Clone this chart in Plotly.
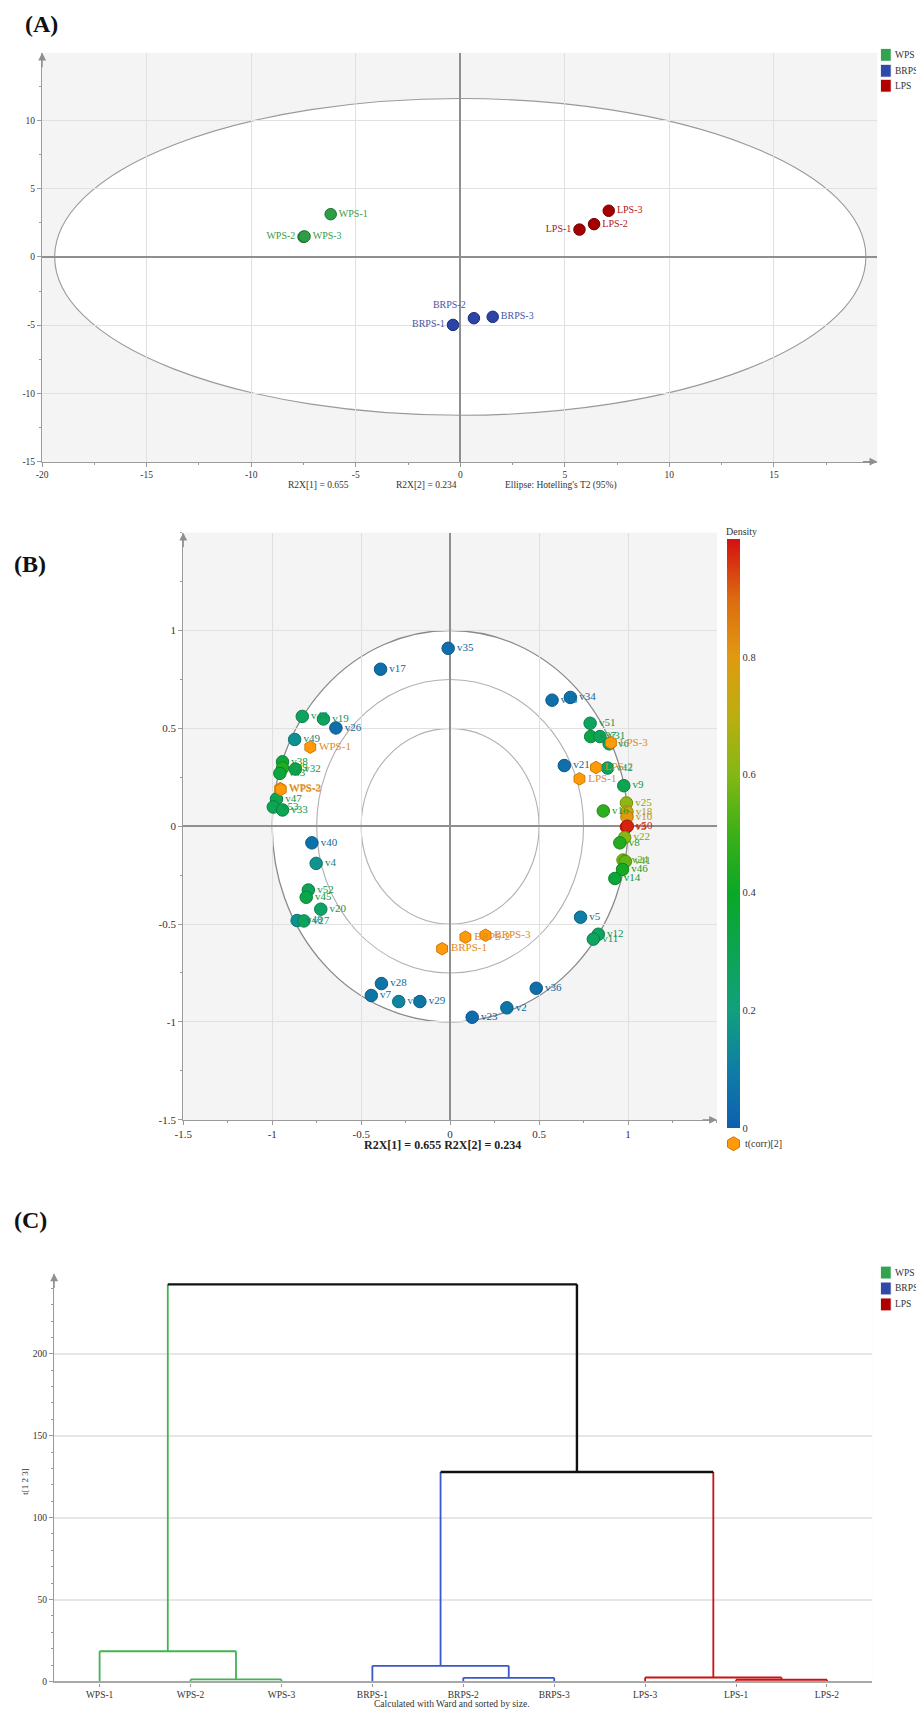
import math
import plotly.graph_objects as go

W, H = 916, 1720
SERIF = "Liberation Serif"


def px(x):
    return x / W


def py(y):
    return 1 - y / H


# ---------------- Panel A : score scatter ----------------
group_names = ["WPS", "BRPS", "LPS"]
a_samples = ["WPS-1", "WPS-2", "WPS-3", "BRPS-1", "BRPS-2", "BRPS-3", "LPS-1", "LPS-2", "LPS-3"]
a_groups = ["WPS", "WPS", "WPS", "BRPS", "BRPS", "BRPS", "LPS", "LPS", "LPS"]
a_t1 = [-6.2, -7.5, -7.45, -0.35, 0.65, 1.55, 5.7, 6.4, 7.1]
a_t2 = [3.13, 1.47, 1.50, -4.98, -4.49, -4.39, 2.00, 2.40, 3.38]
a_textpos = ["middle right", "middle left", "middle right", "middle left", "top left",
             "middle right", "middle left", "middle right", "middle right"]
a_ellipse_t1 = 19.4
a_ellipse_t2 = 11.6
a_xticks = [-20, -15, -10, -5, 0, 5, 10, 15]
a_yticks = [-15, -10, -5, 0, 5, 10]
a_notes = ["R2X[1] = 0.655", "R2X[2] = 0.234", "Ellipse: Hotelling's T2 (95%)"]

# ---------------- Panel B : loading / correlation plot ----------------
b_vars = ["v35", "v17", "v13", "v34", "v44", "v19", "v26", "v49", "v38", "v39", "v43", "v32",
          "v47", "v53", "v33", "v40", "v4", "v52", "v45", "v20", "v48", "v27", "v28", "v7",
          "v30", "v29", "v23", "v2", "v36", "v5", "v12", "v11", "v51", "v37", "v31", "v6",
          "v21", "v42", "v9", "v25", "v16", "v18", "v10", "v3", "v50", "v22", "v8", "v24",
          "v41", "v46", "v14"]
b_p1 = [-0.011, -0.391, 0.573, 0.676, -0.831, -0.712, -0.642, -0.874, -0.942, -0.942, -0.957, -0.870,
        -0.976, -0.994, -0.942, -0.777, -0.753, -0.797, -0.809, -0.727, -0.860, -0.822, -0.386, -0.443,
        -0.289, -0.170, 0.124, 0.319, 0.484, 0.733, 0.833, 0.805, 0.787, 0.790, 0.842, 0.894,
        0.642, 0.885, 0.976, 0.991, 0.861, 0.994, 0.994, 0.991, 0.996, 0.981, 0.954, 0.972,
        0.985, 0.969, 0.926]
b_p2 = [0.909, 0.802, 0.644, 0.658, 0.561, 0.548, 0.502, 0.443, 0.329, 0.297, 0.270, 0.292,
        0.139, 0.098, 0.083, -0.085, -0.190, -0.326, -0.363, -0.424, -0.482, -0.484, -0.804, -0.865,
        -0.896, -0.896, -0.976, -0.928, -0.828, -0.465, -0.552, -0.577, 0.526, 0.458, 0.458, 0.421,
        0.310, 0.297, 0.207, 0.119, 0.078, 0.073, 0.047, -0.004, 0.000, -0.058, -0.085, -0.173,
        -0.180, -0.221, -0.267]
b_density = [0.05, 0.05, 0.05, 0.06, 0.27, 0.27, 0.05, 0.15, 0.35, 0.45, 0.35, 0.28,
             0.30, 0.30, 0.30, 0.06, 0.16, 0.28, 0.32, 0.25, 0.15, 0.28, 0.07, 0.07,
             0.12, 0.07, 0.04, 0.07, 0.05, 0.10, 0.27, 0.27, 0.27, 0.33, 0.28, 0.27,
             0.05, 0.27, 0.30, 0.62, 0.47, 0.72, 0.80, 0.98, 0.98, 0.60, 0.45, 0.57,
             0.55, 0.42, 0.36]
b_obs = ["WPS-1", "WPS-2", "WPS-3", "BRPS-1", "BRPS-2", "BRPS-3", "LPS-1", "LPS-2", "LPS-3"]
b_obs_p1 = [-0.786, -0.955, -0.952, -0.045, 0.086, 0.199, 0.727, 0.820, 0.904]
b_obs_p2 = [0.404, 0.192, 0.188, -0.626, -0.567, -0.557, 0.242, 0.300, 0.426]
b_circle_radii = [1.0, 0.75, 0.5]
b_ticks = [-1.5, -1, -0.5, 0, 0.5, 1]
b_cbar_ticks = [0, 0.2, 0.4, 0.6, 0.8]
b_colorscale = [[0.0, "#0f5fb0"], [0.1, "#0e7ea6"], [0.2, "#11a07c"], [0.3, "#0da452"],
                [0.4, "#0aa826"], [0.5, "#3cb018"], [0.6, "#84b814"], [0.7, "#bcae10"],
                [0.8, "#e09a10"], [0.9, "#dc6a10"], [1.0, "#d41010"]]
b_note = "R2X[1] = 0.655 R2X[2] = 0.234"

# ---------------- Panel C : dendrogram ----------------
c_leaves = ["WPS-1", "WPS-2", "WPS-3", "BRPS-1", "BRPS-2", "BRPS-3", "LPS-3", "LPS-1", "LPS-2"]
c_leaf_group = ["WPS", "WPS", "WPS", "BRPS", "BRPS", "BRPS", "LPS", "LPS", "LPS"]
# merges: node ids 0..8 are leaves, 9.. are merges in order
c_link_a = [1, 0, 4, 3, 7, 6, 12, 10]
c_link_b = [2, 9, 5, 11, 8, 13, 14, 15]
c_link_h = [1.2, 18.4, 2.2, 9.5, 1.0, 2.4, 127.8, 242.4]
c_link_group = ["WPS", "WPS", "BRPS", "BRPS", "LPS", "LPS", "ALL", "ALL"]
c_yticks = [0, 50, 100, 150, 200]

# ---------------- styles ----------------
grp_marker = {"WPS": "#2e9e46", "BRPS": "#2b44a6", "LPS": "#a50000"}
grp_edge = {"WPS": "#1d6e2e", "BRPS": "#1b2c78", "LPS": "#700000"}
grp_text = {"WPS": "#3a9a48", "BRPS": "#4a55a5", "LPS": "#b01515"}
grp_legend = {"WPS": "#33a350", "BRPS": "#3048a8", "LPS": "#b00000"}
grp_dendro = {"WPS": "#42b352", "BRPS": "#3a58c8", "LPS": "#cc1111", "ALL": "#111111"}


def hex2rgb(h):
    h = h.lstrip("#")
    return [int(h[i:i + 2], 16) for i in (0, 2, 4)]


def interp_color(v):
    for (p0, c0), (p1, c1) in zip(b_colorscale[:-1], b_colorscale[1:]):
        if p0 <= v <= p1:
            t = (v - p0) / (p1 - p0) if p1 > p0 else 0
            a, b = hex2rgb(c0), hex2rgb(c1)
            return [a[i] + (b[i] - a[i]) * t for i in range(3)]
    return hex2rgb(b_colorscale[-1][1])


def rgb(c, f=1.0):
    return "rgb(%d,%d,%d)" % tuple(int(max(0, min(255, x * f))) for x in c)


fig = go.Figure()

# ---- Panel A traces ----
for g in group_names:
    idx = [i for i, gg in enumerate(a_groups) if gg == g]
    fig.add_trace(go.Scatter(
        x=[a_t1[i] for i in idx], y=[a_t2[i] for i in idx],
        text=[a_samples[i] for i in idx], textposition=[a_textpos[i] for i in idx],
        mode="markers+text",
        marker=dict(size=11.5, color=grp_marker[g], line=dict(color=grp_edge[g], width=1)),
        textfont=dict(family=SERIF, size=10, color=grp_text[g]),
        xaxis="x", yaxis="y", showlegend=False, hoverinfo="skip"))

# ---- Panel B traces ----
b_cols = [interp_color(d) for d in b_density]
fig.add_trace(go.Scatter(
    x=b_p1, y=b_p2, text=b_vars, mode="markers+text", textposition="middle right",
    marker=dict(size=12.5, color=b_density, colorscale=b_colorscale, cmin=0, cmax=1,
                line=dict(color=[rgb(c, 0.78) for c in b_cols], width=1),
                showscale=True,
                colorbar=dict(x=px(725), xanchor="left", xpad=0, y=py(1132), yanchor="bottom", ypad=0,
                              lenmode="pixels", len=589, thicknessmode="pixels", thickness=13,
                              outlinewidth=0, ticks="", tickvals=b_cbar_ticks,
                              ticktext=[str(t) for t in b_cbar_ticks],
                              tickfont=dict(family=SERIF, size=10.5, color="#333"))),
    textfont=dict(family=SERIF, size=11, color=[rgb(c, 0.92) for c in b_cols]),
    xaxis="x2", yaxis="y2", showlegend=False, hoverinfo="skip"))
fig.add_trace(go.Scatter(
    x=b_obs_p1, y=b_obs_p2, text=b_obs, mode="markers+text", textposition="middle right",
    marker=dict(size=12.5, symbol="hexagon", color="#ff9a0a", line=dict(color="#d27800", width=1)),
    textfont=dict(family=SERIF, size=11, color="#e0891c"),
    xaxis="x2", yaxis="y2", showlegend=False, hoverinfo="skip"))

# ---- Panel C dendrogram ----
pos = {i: i + 1 for i in range(len(c_leaves))}
hgt = {i: 0.0 for i in range(len(c_leaves))}
col = {i: c_leaf_group[i] for i in range(len(c_leaves))}
segs = {k: ([], []) for k in grp_dendro}
for k, (a, b, h, g) in enumerate(zip(c_link_a, c_link_b, c_link_h, c_link_group)):
    nid = len(c_leaves) + k
    xa, xb = pos[a], pos[b]
    for child, xc in ((a, xa), (b, xb)):
        sx, sy = segs[col[child]]
        sx += [xc, xc, None]
        sy += [hgt[child], h, None]
    sx, sy = segs[g]
    sx += [xa, xb, None]
    sy += [h, h, None]
    pos[nid] = (xa + xb) / 2
    hgt[nid] = h
    col[nid] = g
for g, (sx, sy) in segs.items():
    fig.add_trace(go.Scatter(x=sx, y=sy, mode="lines",
                             line=dict(color=grp_dendro[g], width=2.4 if g == "ALL" else 1.8),
                             xaxis="x3", yaxis="y3", showlegend=False, hoverinfo="skip"))

# ---------------- axes ----------------
tickfont = dict(family=SERIF, size=9.5, color="#333")
base = dict(showline=True, linecolor="#9a9a9a", linewidth=1.3, ticks="outside", tickcolor="#9a9a9a",
            ticklen=4, tickwidth=1, tickfont=tickfont, gridcolor="#e0e0e0", gridwidth=1.2,
            zeroline=True, zerolinecolor="#8f8f8f", zerolinewidth=1.6, mirror=False)


def fmt(v):
    return "%g" % v


minor_a = dict(tickmode="linear", tick0=0, dtick=2.5, ticklen=2.5, ticks="outside",
               tickcolor="#9a9a9a", showgrid=False)
minor_b = dict(minor_a, dtick=0.25)
minor_c = dict(minor_a, dtick=10)

fig.update_layout(
    width=W, height=H, margin=dict(l=0, r=0, t=0, b=0), autosize=False,
    paper_bgcolor="white", plot_bgcolor="#f4f4f4",
    xaxis=dict(base, domain=[px(33.5), px(877)], range=[-20, 19.95], anchor="y",
               tickmode="array", tickvals=a_xticks, ticktext=[fmt(v) for v in a_xticks], minor=minor_a),
    yaxis=dict(base, domain=[py(463.3), py(53)], range=[-15, 14.95], anchor="x",
               tickmode="array", tickvals=a_yticks, ticktext=[fmt(v) for v in a_yticks], minor=minor_a),
    xaxis2=dict(base, domain=[px(176), px(715)], range=[-1.5, 1.5], anchor="y2",
                tickmode="array", tickvals=b_ticks, ticktext=[fmt(v) for v in b_ticks],
                tickfont=dict(family=SERIF, size=11, color="#333"), minor=minor_b),
    yaxis2=dict(base, domain=[py(1123.7), py(534.5)], range=[-1.5, 1.5], anchor="x2",
                tickmode="array", tickvals=b_ticks, ticktext=[fmt(v) for v in b_ticks],
                tickfont=dict(family=SERIF, size=11, color="#333"), minor=minor_b),
    xaxis3=dict(base, domain=[px(45.6), px(872)], range=[0.5, 9.5], anchor="y3",
                tickmode="array", tickvals=list(range(1, len(c_leaves) + 1)), ticktext=c_leaves,
                showgrid=False, zeroline=False, linewidth=2.2, linecolor="#a8a8a8", ticklen=3),
    yaxis3=dict(base, domain=[py(1687.3), py(1278)], range=[0, 249], anchor="x3",
                tickmode="array", tickvals=c_yticks, ticktext=[fmt(v) for v in c_yticks],
                zeroline=False, gridcolor="#e6e6e6", gridwidth=1.5, minor=minor_c),
)

shapes = [
    # white plot background for panel C
    dict(type="rect", xref="x3 domain", yref="y3 domain", x0=0, x1=1, y0=0, y1=1,
         fillcolor="white", line=dict(width=0), layer="below"),
    # Hotelling ellipse
    dict(type="circle", xref="x", yref="y", x0=-a_ellipse_t1, x1=a_ellipse_t1,
         y0=-a_ellipse_t2, y1=a_ellipse_t2, fillcolor="white",
         line=dict(color="#9a9a9a", width=1.1), layer="below"),
]
for i, r in enumerate(b_circle_radii):
    shapes.append(dict(type="circle", xref="x2", yref="y2", x0=-r, x1=r, y0=-r, y1=r,
                       fillcolor="white" if i == 0 else "rgba(0,0,0,0)",
                       line=dict(color="#8a8a8a" if i == 0 else "#b0b0b0", width=1.3 if i == 0 else 1.1),
                       layer="below"))

legend_rows = ([55, 71, 86], [1277, 1293, 1309])
for ys in legend_rows:
    for g, yc in zip(group_names, ys):
        shapes.append(dict(type="rect", xref="paper", yref="paper", x0=px(880), x1=px(891),
                           y0=py(yc + 6.5), y1=py(yc - 6.5), fillcolor=grp_legend[g],
                           line=dict(color="white", width=1)))

# hexagon legend symbol for panel B
cx, cy, rr = 731.7, 1147.7, 7
pts = [(cx + rr * math.cos(math.radians(90 + 60 * k)), cy - rr * math.sin(math.radians(90 + 60 * k)))
       for k in range(6)]
path = "M " + " L ".join("%.5f,%.5f" % (px(x), py(y)) for x, y in pts) + " Z"
shapes.append(dict(type="path", xref="paper", yref="paper", path=path, fillcolor="#ff9a0a",
                   line=dict(color="#d27800", width=1)))
fig.update_layout(shapes=shapes)

# ---------------- annotations ----------------
ann = []


def text(x, y, s, size=9.5, xanchor="center", color="#333", angle=0):
    ann.append(dict(x=px(x), y=py(y), xref="paper", yref="paper", text=s, showarrow=False,
                    xanchor=xanchor, yanchor="middle", textangle=angle,
                    font=dict(family=SERIF, size=size, color=color)))


text(14, 24, "<b>(A)</b>", 24, "left", "#111")
text(3, 566, "<b>(B)</b>", 24, "left", "#111")
text(3, 1224, "<b>(C)</b>", 24, "left", "#111")

for s, xc in zip(a_notes, [313, 422, 557]):
    text(xc, 487, s, 9.5)
text(438, 1149, "<b>%s</b>" % b_note, 12, "center", "#222")
text(739.5, 533, "Density", 10, "center", "#333")
text(741, 1148, "t(corr)[2]", 10, "left", "#333")
text(447, 1710, "Calculated with Ward and sorted by size.", 9.5)
text(16, 1486, "t[1 2 3]", 9, "center", "#333", -90)

for ys in legend_rows:
    for g, yc in zip(group_names, ys):
        text(893, yc, g, 9.5, "left", "#333")

# axis arrows
arrow = dict(showarrow=True, arrowhead=2, arrowsize=1.3, arrowwidth=1.2, arrowcolor="#8f8f8f",
             text="", standoff=0)
ann.append(dict(arrow, x=-20, y=14.95, xref="x", yref="y", ax=0, ay=16))
ann.append(dict(arrow, x=19.95, y=-15, xref="x", yref="y", ax=-16, ay=0))
ann.append(dict(arrow, x=-1.5, y=1.5, xref="x2", yref="y2", ax=0, ay=16))
ann.append(dict(arrow, x=1.5, y=-1.5, xref="x2", yref="y2", ax=-16, ay=0))
ann.append(dict(arrow, x=0.5, y=249, xref="x3", yref="y3", ax=0, ay=16))
fig.update_layout(annotations=ann)

fig.write_html("out.html")
